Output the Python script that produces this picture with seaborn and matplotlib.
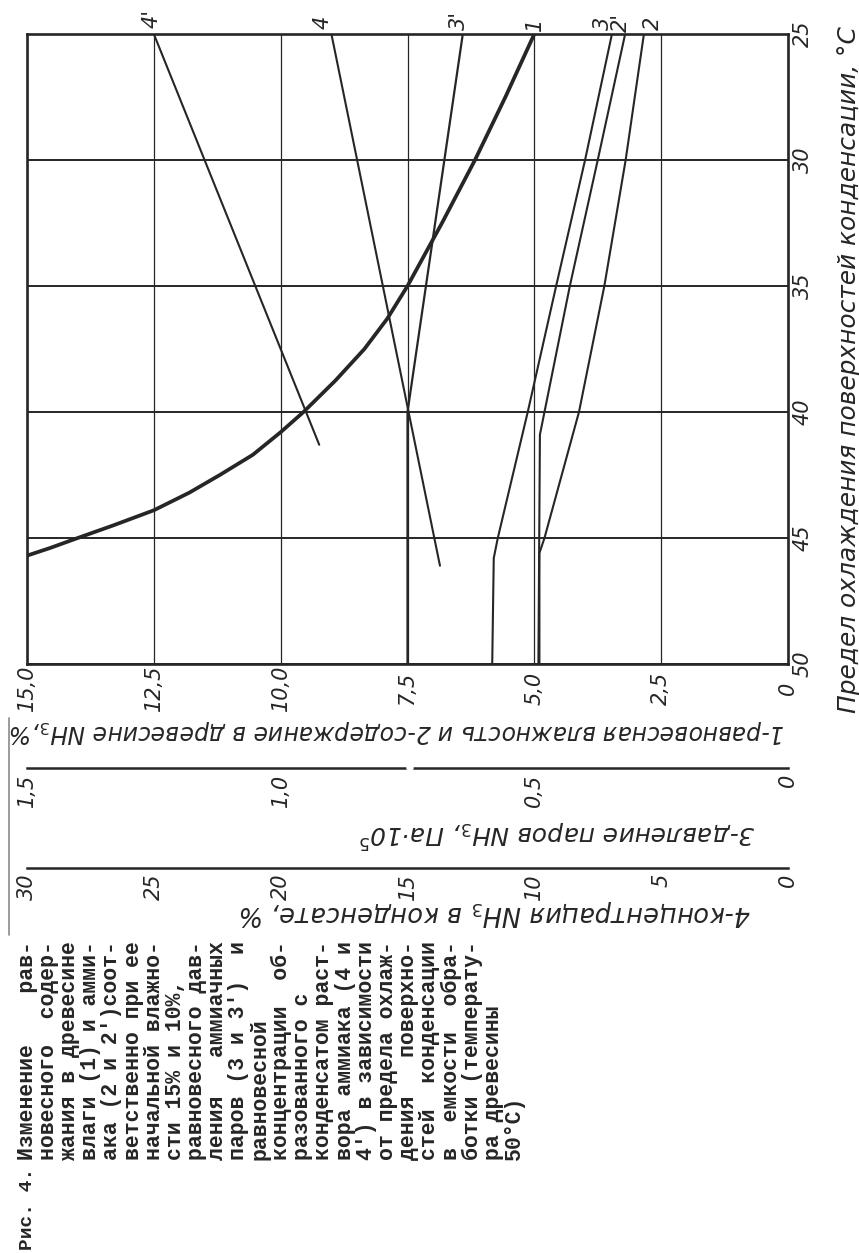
import matplotlib
matplotlib.use("Agg")
import matplotlib.pyplot as plt
from matplotlib.lines import Line2D
import seaborn as sns

# ---------------- data ----------------
# temperature limit of condensing surfaces, °C
temp_1 = [25, 27.5, 30, 32.5, 35, 36.3, 37.5, 38.75, 40, 40.8, 41.7, 42.5, 43.2, 43.9, 44.5, 45, 45.4, 45.7]
moist_1 = [5.0, 5.57, 6.17, 6.82, 7.5, 7.9, 8.35, 8.92, 9.55, 10.0, 10.55, 11.2, 11.8, 12.5, 13.3, 14.0, 14.55, 15.0]  # % (curve 1)

temp_2 = [25, 30, 35, 40, 45, 45.6, 50]
nh3_2 = [2.84, 3.2, 3.62, 4.12, 4.8, 4.9, 4.9]                                   # % (curve 2)
temp_2p = [25, 30, 35, 40, 40.9, 50]
nh3_2p = [3.21, 3.75, 4.3, 4.8, 4.89, 4.92]                                      # % (curve 2')

temp_3 = [25, 30, 35, 40, 45, 45.8, 50]
press_3 = [0.347, 0.40, 0.457, 0.513, 0.572, 0.58, 0.583]                       # Па·10^5 (curve 3)
temp_3p = [25, 40, 50]
press_3p = [0.641, 0.75, 0.75]                                                   # Па·10^5 (curve 3')

temp_4 = [25, 46.1]
conc_4 = [18.0, 13.72]                                                           # % (curve 4)
temp_4p = [25, 41.3]
conc_4p = [25.0, 18.48]                                                          # % (curve 4')

main_ticks = [15, 12.5, 10, 7.5, 5, 2.5, 0]
main_labels = ["15,0", "12,5", "10,0", "7,5", "5,0", "2,5", "0"]
press_ticks = [1.5, 1.25, 1.0, 0.75, 0.5, 0.25, 0]
press_labels = ["1,5", "", "1,0", "", "0,5", "", "0"]
conc_ticks = [30, 25, 20, 15, 10, 5, 0]
conc_labels = ["30", "25", "20", "15", "10", "5", "0"]
temp_ticks = [25, 30, 35, 40, 45, 50]
temp_labels = ["25", "30", "35", "40", "45", "50"]

curve_names = ["4'", "4", "3'", "1", "3", "2'", "2"]

caption_lines = [
    "Изменение рав-", "новесного содер-", "жания в древесине", "влаги (1) и амми-",
    "ака (2 и 2')соот-", "ветственно при ее", "начальной влажно-", "сти 15% и 10%,",
    "равновесного дав-", "ления аммиачных", "паров (3 и 3') и", "равновесной",
    "концентрации об-", "разованного с", "конденсатом раст-", "вора аммиака (4 и",
    "4') в зависимости", "от предела охлаж-", "дения поверхно-", "стей конденсации",
    "в емкости обра-", "ботки (температу-", "ра древесины", "50°C)",
]
caption_ragged = {"сти 15% и 10%,", "равновесной", "разованного с", "ра древесины", "50°C)"}

# ---------------- figure ----------------
sns.set_style("white")
plt.rcParams["font.family"] = ["DejaVu Sans"]
INK = "#262626"
W, H = 859, 1253
fig = plt.figure(figsize=(W / 100, H / 100), dpi=100, facecolor="white")


def fx(px):
    return px / W


def fy(py):
    return 1 - py / H


L, R, T, B = 27, 788, 34, 664
ax = fig.add_axes([fx(L), fy(B), fx(R) - fx(L), fy(T) - fy(B)])
ax.set_xlim(15, 0)
ax.set_ylim(50, 25)
ax.set_xticks(main_ticks)
ax.set_xticklabels(main_labels, rotation=90, va="center", style="italic", fontsize=15, color=INK)
ax.yaxis.tick_right()
ax.set_yticks(temp_ticks)
ax.set_yticklabels(temp_labels, rotation=90, va="center", style="italic", fontsize=15, color=INK)
ax.tick_params(axis="x", length=0, pad=17.5)
ax.tick_params(axis="y", length=0, pad=3.5)
ax.xaxis.grid(True, color=INK, lw=0.9)
ax.yaxis.grid(True, color=INK, lw=1.4)
for s in ax.spines.values():
    s.set_color(INK)
    s.set_linewidth(1.9)
    s.set_visible(True)
ax.set_xlabel("")
ax.set_ylabel("")

# moisture / NH3 content in wood (main scale)
sns.lineplot(x=moist_1, y=temp_1, ax=ax, sort=False, estimator=None, color=INK, lw=2.7)
sns.lineplot(x=nh3_2, y=temp_2, ax=ax, sort=False, estimator=None, color=INK, lw=1.5)
sns.lineplot(x=nh3_2p, y=temp_2p, ax=ax, sort=False, estimator=None, color=INK, lw=1.5)

# vapour pressure (scale 0..1.5)
ax_p = ax.twiny()
ax_p.set_xlim(1.5, 0)
ax_p.axis("off")
sns.lineplot(x=press_3, y=temp_3, ax=ax_p, sort=False, estimator=None, color=INK, lw=1.5)
sns.lineplot(x=press_3p, y=temp_3p, ax=ax_p, sort=False, estimator=None, color=INK, lw=1.6)

# concentration in condensate (scale 0..30)
ax_c = ax.twiny()
ax_c.set_xlim(30, 0)
ax_c.axis("off")
sns.lineplot(x=conc_4, y=temp_4, ax=ax_c, sort=False, estimator=None, color=INK, lw=1.5)
sns.lineplot(x=conc_4p, y=temp_4p, ax=ax_c, sort=False, estimator=None, color=INK, lw=1.5)
for a in (ax_p, ax_c):
    a.set_ylim(50, 25)

# curve numbers above the frame
name_pos = [(152, 18), (323, 22), (459, 20), (535, 24), (603, 23), (621, 22), (653, 23)]
for name, (px, py) in zip(curve_names, name_pos):
    fig.text(fx(px), fy(py), name, rotation=90, ha="center", va="center",
             style="italic", fontsize=15, color=INK)


# secondary scales below
def scale_axis(ypx, lim, ticks, labels):
    a = fig.add_axes([fx(L), fy(ypx), fx(R) - fx(L), 0.00001])
    a.set_facecolor("none")
    a.set_xlim(*lim)
    a.set_yticks([])
    for k in ("top", "left", "right"):
        a.spines[k].set_visible(False)
    a.spines["bottom"].set_color(INK)
    a.spines["bottom"].set_linewidth(1.8)
    a.set_xticks(ticks)
    a.set_xticklabels(labels, rotation=90, style="italic", fontsize=15, color=INK)
    a.tick_params(axis="x", direction="in", length=9.5, width=1.6, color=INK, pad=4)
    return a


ax2 = scale_axis(768, (1.5, 0), press_ticks, press_labels)
ax2.plot([0.7475, 0.7435], [0, 0], color="white", lw=4, clip_on=False, zorder=5)
ax3 = scale_axis(868, (30, 0), conc_ticks, conc_labels)

# axis titles
t_temp = fig.text(fx(849), fy(370), "Предел охлаждения поверхностей конденсации, °C",
                  rotation=90, ha="center", va="center", style="italic", fontsize=16, color=INK)
t1 = fig.text(fx(397), fy(731), "1-равновесная влажность и 2-содержание в древесине NH$_3$,%",
              rotation=180, ha="center", va="center", style="italic", fontsize=16, color=INK)
t3 = fig.text(fx(557), fy(833), "3-давление паров NH$_3$, Па·10$^5$",
              rotation=180, ha="center", va="center", style="italic", fontsize=16, color=INK)
t4 = fig.text(fx(495), fy(913), "4-концентрация NH$_3$ в конденсате, %",
              rotation=180, ha="center", va="center", style="italic", fontsize=16, color=INK)

# scan artefact at left edge
fig.add_artist(Line2D([fx(9), fx(9)], [fy(718), fy(935)], color="#8a8a8a", lw=1.2))


# caption (typewritten, justified, rotated)
def justify(line, width=17):
    words = line.split(" ")
    if len(words) < 2 or line in caption_ragged:
        return line
    extra = width - len(line)
    gaps = [1] * (len(words) - 1)
    k = len(gaps) - 1
    while extra > 0:
        gaps[k] += 1
        extra -= 1
        k = k - 1 if k > 0 else len(gaps) - 1
    out = words[0]
    for g, w in zip(gaps, words[1:]):
        out += " " * g + w
    return out


fig.text(fx(27), fy(1250), "Рис. 4.", rotation=90, rotation_mode="anchor",
         ha="left", va="center", family="Liberation Mono", weight="bold", fontsize=14, color=INK)
for i, line in enumerate(caption_lines):
    fig.text(fx(27 + 21.2 * i), fy(1160), justify(line), rotation=90, rotation_mode="anchor",
             ha="left", va="center", family="Liberation Mono", weight="bold", fontsize=15.5, color=INK)

# fit axis titles to the lengths seen in the picture
fig.canvas.draw()
r = fig.canvas.get_renderer()
for t, target, horiz in [(t_temp, 690, False), (t1, 777, True), (t3, 397, True), (t4, 513, True)]:
    bb = t.get_window_extent(renderer=r)
    cur = bb.width if horiz else bb.height
    t.set_fontsize(t.get_fontsize() * target / cur)

fig.savefig("out.png", dpi=100, facecolor="white")
